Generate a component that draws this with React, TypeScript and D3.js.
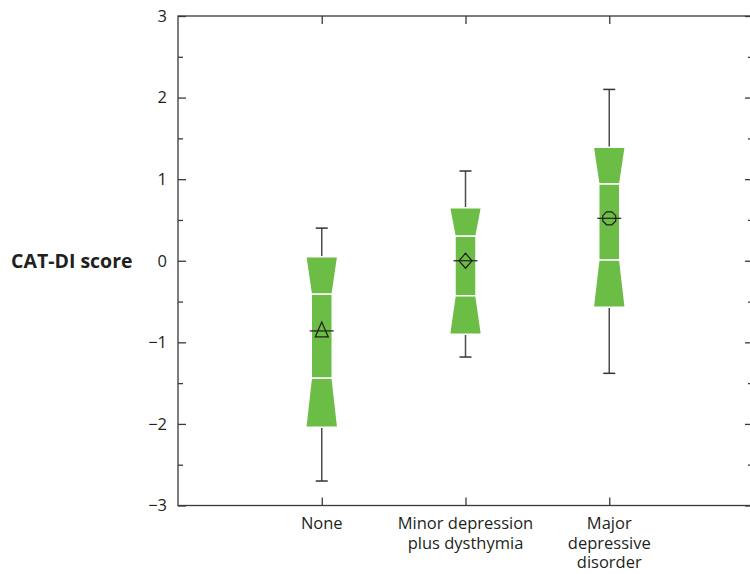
import React, { useEffect, useRef } from "react";
import * as d3 from "d3";

const categories = [["None"], ["Minor depression", "plus dysthymia"], ["Major", "depressive", "disorder"]];
const whiskerHigh = [0.4, 1.1, 2.1];
const q3 = [0.05, 0.65, 1.39];
const notchHigh = [-0.41, 0.3, 0.94];
const medians = [-0.86, 0.0, 0.52];
const notchLow = [-1.44, -0.43, 0.01];
const q1 = [-2.04, -0.9, -0.57];
const whiskerLow = [-2.7, -1.18, -1.38];
const means = [-0.86, 0.0, 0.52];
const markers = ["triangle", "diamond", "circle"];
const yTicks = [-3, -2, -1, 0, 1, 2, 3];
const yMinorTicks = [-2.5, -1.5, -0.5, 0.5, 1.5, 2.5];

export default function App() {
  const ref = useRef<SVGSVGElement>(null);

  useEffect(() => {
    const width = 750;
    const height = 574;
    const margin = { top: 16, right: -3, bottom: 68.5, left: 178 };
    const font = "'Open Sans', 'Noto Sans', sans-serif";
    const axisColor = "#3a3a3a";
    const green = "#6bbd45";

    const svg = d3.select(ref.current);
    svg.selectAll("*").remove();
    svg.attr("width", width).attr("height", height);

    const x = d3
      .scaleLinear()
      .domain([0, categories.length + 1])
      .range([margin.left, width - margin.right]);

    const y = d3
      .scaleLinear()
      .domain([-3, 3])
      .range([height - margin.bottom, margin.top]);

    const x0 = margin.left;
    const x1 = width - margin.right;
    const yTop = margin.top;
    const yBot = height - margin.bottom;

    // frame
    svg
      .append("rect")
      .attr("x", x0)
      .attr("y", yTop)
      .attr("width", x1 - x0)
      .attr("height", yBot - yTop)
      .attr("fill", "none")
      .attr("stroke", axisColor)
      .attr("stroke-width", 1.3);

    // Eixo Y esquerdo
    const left = svg
      .append("g")
      .attr("transform", `translate(${x0},0)`)
      .call(
        d3
          .axisLeft(y)
          .tickValues(yTicks)
          .tickSize(-8)
          .tickPadding(11)
          .tickFormat(d3.format("d"))
      );
    left.select(".domain").remove();
    left.selectAll("line").attr("stroke", axisColor).attr("stroke-width", 1.3);
    left
      .selectAll("text")
      .style("fill", "#231f20")
      .style("font-size", "16.5px")
      .style("font-family", font);

    const leftMinor = svg
      .append("g")
      .attr("transform", `translate(${x0},0)`)
      .call(d3.axisLeft(y).tickValues(yMinorTicks).tickSize(-5).tickFormat(() => ""));
    leftMinor.select(".domain").remove();
    leftMinor.selectAll("line").attr("stroke", axisColor).attr("stroke-width", 1.3);

    // Eixo Y direito
    const right = svg
      .append("g")
      .attr("transform", `translate(${x1},0)`)
      .call(d3.axisRight(y).tickValues(yTicks).tickSize(-8).tickFormat(() => ""));
    right.select(".domain").remove();
    right.selectAll("line").attr("stroke", axisColor).attr("stroke-width", 1.3);

    const rightMinor = svg
      .append("g")
      .attr("transform", `translate(${x1},0)`)
      .call(d3.axisRight(y).tickValues(yMinorTicks).tickSize(-5).tickFormat(() => ""));
    rightMinor.select(".domain").remove();
    rightMinor.selectAll("line").attr("stroke", axisColor).attr("stroke-width", 1.3);

    const idx = categories.map((_, i) => i + 1);

    // Eixo X
    const bottom = svg
      .append("g")
      .attr("transform", `translate(0,${yBot})`)
      .call(d3.axisBottom(x).tickValues(idx).tickSize(-8).tickFormat(() => ""));
    bottom.select(".domain").remove();
    bottom.selectAll("line").attr("stroke", axisColor).attr("stroke-width", 1.3);

    const top = svg
      .append("g")
      .attr("transform", `translate(0,${yTop})`)
      .call(d3.axisTop(x).tickValues(idx).tickSize(-8).tickFormat(() => ""));
    top.select(".domain").remove();
    top.selectAll("line").attr("stroke", axisColor).attr("stroke-width", 1.3);

    // x labels
    categories.forEach((lines, i) => {
      const t = svg
        .append("text")
        .attr("text-anchor", "middle")
        .attr("fill", "#231f20")
        .style("font-size", "16.5px")
        .style("font-family", font);
      lines.forEach((line, j) => {
        t.append("tspan")
          .attr("x", x(i + 1))
          .attr("y", yBot + 23.5 + j * 19.5)
          .text(line);
      });
    });

    // y title
    svg
      .append("text")
      .attr("x", 11)
      .attr("y", y(0))
      .attr("dy", "0.35em")
      .attr("fill", "#231f20")
      .style("font-size", "19.5px")
      .style("font-weight", "bold")
      .style("font-family", font)
      .text("CAT-DI score");

    const wide = 32;
    const narrow = 21;
    const cap = 12;

    categories.forEach((_, i) => {
      const cx = x(i + 1);
      const g = svg.append("g");

      // whiskers
      const wc = "#4d4d4d";
      g.append("line")
        .attr("x1", cx).attr("x2", cx)
        .attr("y1", y(whiskerHigh[i])).attr("y2", y(q3[i]))
        .attr("stroke", wc).attr("stroke-width", 1.5);
      g.append("line")
        .attr("x1", cx).attr("x2", cx)
        .attr("y1", y(q1[i])).attr("y2", y(whiskerLow[i]))
        .attr("stroke", wc).attr("stroke-width", 1.5);
      [whiskerHigh[i], whiskerLow[i]].forEach(v => {
        g.append("line")
          .attr("x1", cx - cap / 2).attr("x2", cx + cap / 2)
          .attr("y1", y(v)).attr("y2", y(v))
          .attr("stroke", "#333").attr("stroke-width", 1.5);
      });

      // notched box, drawn in three parts
      const upper = [
        [cx - wide / 2, y(q3[i])],
        [cx + wide / 2, y(q3[i])],
        [cx + narrow / 2, y(notchHigh[i])],
        [cx - narrow / 2, y(notchHigh[i])]
      ];
      const lower = [
        [cx - narrow / 2, y(notchLow[i])],
        [cx + narrow / 2, y(notchLow[i])],
        [cx + wide / 2, y(q1[i])],
        [cx - wide / 2, y(q1[i])]
      ];
      const mid = [
        [cx - narrow / 2, y(notchHigh[i])],
        [cx + narrow / 2, y(notchHigh[i])],
        [cx + narrow / 2, y(notchLow[i])],
        [cx - narrow / 2, y(notchLow[i])]
      ];
      [upper, mid, lower].forEach(pts => {
        g.append("path")
          .attr("d", d3.line()(pts as [number, number][]) + "Z")
          .attr("fill", green)
          .attr("stroke", "#ffffff")
          .attr("stroke-width", 1.5);
      });

      // median
      g.append("line")
        .attr("x1", cx - narrow / 2 - 1.5).attr("x2", cx + narrow / 2 + 1.5)
        .attr("y1", y(medians[i])).attr("y2", y(medians[i]))
        .attr("stroke", "#231f20").attr("stroke-width", 1.2);

      // mean marker
      const my = y(means[i]);
      let d = "";
      if (markers[i] === "triangle") {
        d = `M${cx},${my - 9}L${cx + 6.5},${my + 6}L${cx - 6.5},${my + 6}Z`;
      } else if (markers[i] === "diamond") {
        d = `M${cx},${my - 7.5}L${cx + 6.5},${my}L${cx},${my + 7.5}L${cx - 6.5},${my}Z`;
      } else {
        const pts: [number, number][] = d3.range(8).map(k => {
          const a = (k * Math.PI) / 4 + Math.PI / 8;
          return [cx + 7 * Math.cos(a), my + 7 * Math.sin(a)];
        });
        d = d3.line()(pts) + "Z";
      }
      g.append("path")
        .attr("d", d)
        .attr("fill", "none")
        .attr("stroke", "#231f20")
        .attr("stroke-width", 1.2);
    });
  }, []);

  return (
    <svg
      ref={ref}
      style={{ position: "absolute", left: 0, top: 0, background: "#fff" }}
    ></svg>
  );
}
